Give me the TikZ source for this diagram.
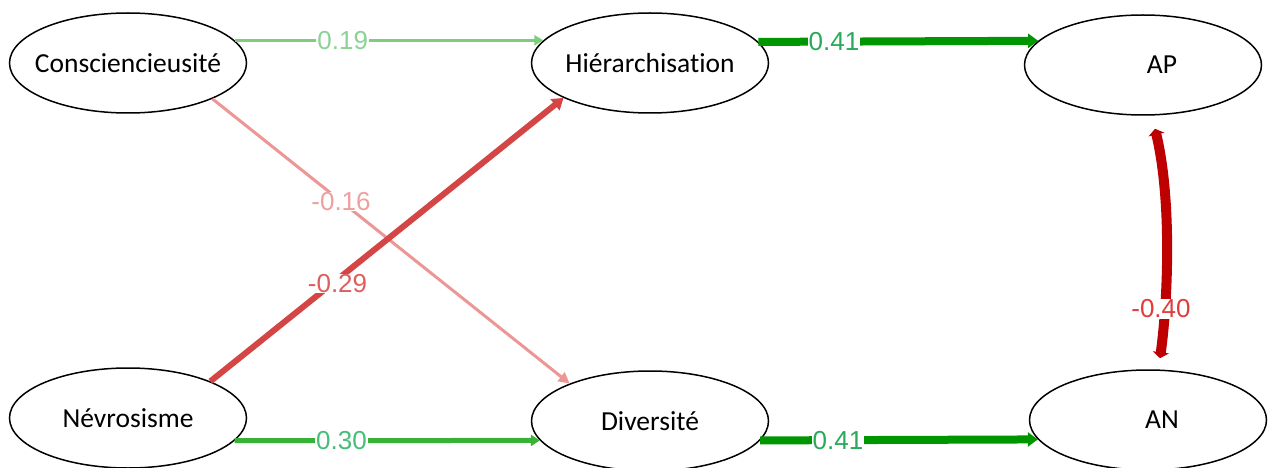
\documentclass[tikz,border=0pt]{standalone}
\usepackage{fontspec}
\setmainfont{Carlito}[Ligatures=NoCommon]
\newfontfamily\lblfont{Liberation Sans}
\usetikzlibrary{arrows.meta,shapes.geometric}
\definecolor{gA}{RGB}{125,205,125}
\definecolor{gB}{RGB}{55,178,55}
\definecolor{gC}{RGB}{0,150,0}
\definecolor{rA}{RGB}{236,150,150}
\definecolor{rB}{RGB}{212,70,70}
\definecolor{rC}{RGB}{190,0,0}
\definecolor{lgA}{RGB}{140,210,150}
\definecolor{lgB}{RGB}{70,190,120}
\definecolor{lgC}{RGB}{40,170,90}
\definecolor{lrA}{RGB}{238,160,160}
\definecolor{lrB}{RGB}{220,95,95}
\definecolor{lrC}{RGB}{225,60,60}
\newcommand\zw[1]{\makebox[0pt]{#1}}
\begin{document}
\begin{tikzpicture}[x=1pt,y=-1pt,
  var/.style={draw=black, line width=1.5pt, ellipse, minimum width=237pt,
    minimum height=100pt, inner sep=0pt, font=\fontsize{27.5}{32}\selectfont},
  wlab/.style={fill=white, inner sep=1pt, font=\lblfont\fontsize{26}{30}\selectfont},
  eA/.style={draw=gA, line width=3pt, -{Triangle[length=9pt,width=10pt]}},
  eB/.style={draw=gB, line width=5pt, -{Triangle[length=9pt,width=11pt]}},
  eC/.style={draw=gC, line width=8pt, -{Triangle[length=10pt,width=14pt]}},
  eD/.style={draw=rA, line width=3pt, -{Triangle[length=11pt,width=11pt]}},
  eE/.style={draw=rB, line width=6pt, -{Triangle[length=11pt,width=14pt]}},
  eF/.style={draw=rC, line width=10pt, {Triangle[length=6pt,width=16pt]}-{Triangle[length=6pt,width=16pt]}},
]
\useasboundingbox (0,0) rectangle (1272,468);
\clip (0,0) rectangle (1272,468);

\node[var] (C)  at (128,63)  {\zw{Consciencieusité}};
\node[var] (H)  at (650,63)  {\zw{Hiérarchisation}};
\node[var] (AP) at (1143,65) {\zw{\hspace*{38pt}AP}};
\node[var] (N)  at (128,418) {\zw{Névrosisme}};
\node[var] (D)  at (650,421) {\zw{Diversité}};
\node[var] (AN) at (1148,420) {\zw{\hspace*{28pt}AN}};

\draw[eA] (C.12) -- node[wlab, text=lgA, pos=0.35] (l1) {0.19} (H.168);
\draw[eC] (H.11) -- node[wlab, text=lgC, pos=0.27] (l2) {0.41} (AP.167);
\draw[eB] (N.-12) -- node[wlab, text=lgB, pos=0.35] (l3) {0.30} (D.-170);
\draw[eC] (D.-10) -- node[wlab, text=lgC, pos=0.28] (l4) {0.41} (AN.-170);
\draw[eD] (C.-23) -- node[wlab, text=lrA, pos=0.36, inner sep=0pt] (l5) {-0.16} (D.155);
\draw[eE] (N.24) -- node[wlab, text=lrB, pos=0.36, yshift=-4pt, inner sep=0pt] (l6) {-0.29} (H.202);
\draw[eF] ([xshift=12pt,yshift=-13pt]AP.south) .. controls (1172,200) and (1168,300) .. ([xshift=12pt,yshift=11pt]AN.north);
\node[wlab, text=lrC] (l7) at (1161,309) {-0.40};
\end{tikzpicture}
\end{document}
